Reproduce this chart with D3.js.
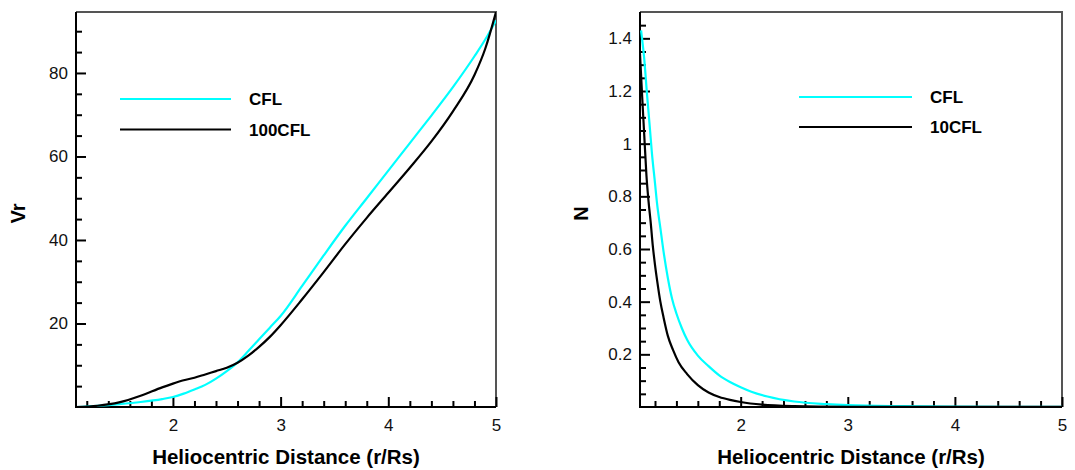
<!DOCTYPE html>
<html>
<head>
<meta charset="utf-8">
<script src="https://cdn.jsdelivr.net/npm/d3@7"></script>
<style>
  body { margin: 0; background: #fff; }
  svg { display: block; font-family: "Liberation Sans", Arial, sans-serif; }
</style>
</head>
<body>
<div id="chart"></div>
<script>
// ---- data ----
const vrR      = [1.1, 1.3, 1.5, 1.7, 1.9, 2.0, 2.1, 2.2, 2.3, 2.4, 2.5, 2.6, 2.7, 2.8, 2.9, 3.0, 3.2, 3.4, 3.6, 3.8, 4.0, 4.2, 4.4, 4.6, 4.8, 4.9, 5.0]
const vrCFL    = [0, 0.3, 0.7, 1.2, 1.9, 2.4, 3.2, 4.2, 5.3, 6.8, 8.6, 10.7, 13.4, 16.2, 19.0, 21.8, 29.0, 36.3, 43.4, 50.0, 56.6, 63.2, 69.8, 76.6, 84.0, 88.0, 92.6]
const vr100CFL = [0, 0.3, 1.1, 2.7, 4.7, 5.6, 6.4, 7.0, 7.8, 8.6, 9.4, 10.6, 12.3, 14.4, 16.8, 19.6, 25.8, 32.3, 39.0, 45.3, 51.3, 57.3, 63.6, 70.8, 79.5, 85.8, 94.6]

const nR_CFL   = [1.07, 1.10, 1.125, 1.15, 1.17, 1.20, 1.22, 1.25, 1.28, 1.32, 1.36, 1.40, 1.45, 1.50, 1.60, 1.70, 1.80, 1.90, 2.00, 2.10, 2.25, 2.50, 2.80, 3.00, 3.50, 4.00, 4.50, 5.00]
const nCFL     = [1.43, 1.32, 1.19, 1.07, 0.97, 0.85, 0.77, 0.68, 0.59, 0.49, 0.41, 0.355, 0.30, 0.255, 0.195, 0.155, 0.12, 0.095, 0.075, 0.058, 0.04, 0.021, 0.011, 0.007, 0.003, 0.0013, 0.0006, 0.0003]
const nR_10CFL = [1.06, 1.08, 1.10, 1.12, 1.14, 1.16, 1.18, 1.20, 1.22, 1.25, 1.28, 1.32, 1.37, 1.42, 1.50, 1.60, 1.70, 1.80, 1.90, 2.00, 2.20, 2.50, 3.00, 4.00, 5.00]
const n10CFL   = [1.34, 1.18, 1.03, 0.88, 0.78, 0.70, 0.61, 0.54, 0.48, 0.40, 0.34, 0.27, 0.215, 0.17, 0.125, 0.083, 0.055, 0.038, 0.027, 0.019, 0.009, 0.0035, 0.001, 0.0002, 0.0001]

const xTicks      = [2, 3, 4, 5]
const xTickLabels = ["2", "3", "4", "5"]
const vrTicks     = [20, 40, 60, 80]
const nTicks      = [0.2, 0.4, 0.6, 0.8, 1, 1.2, 1.4]
const nTickLabels = ["0.2", "0.4", "0.6", "0.8", "1", "1.2", "1.4"]
const xTitle      = "Heliocentric Distance (r/Rs)"

const CYAN = "#00ffff"

const svg = d3.select("#chart").append("svg").attr("width", 1075).attr("height", 470)

drawPanel({
  left: 76, right: 496, top: 12, bottom: 407,
  xDomain: [1.1, 5], yDomain: [0, 94.6],
  yTicks: vrTicks, yLabels: vrTicks.map(String), yMinorStep: 5,
  yTitle: "Vr", yTitleX: 18,
  series: [
    {x: vrR, y: vrCFL, color: CYAN, name: "CFL"},
    {x: vrR, y: vr100CFL, color: "#000", name: "100CFL"}
  ],
  legend: {x1: 120, x2: 231, tx: 249, y: 99, gap: 30.5}
}, "p1")

drawPanel({
  left: 640, right: 1062, top: 12, bottom: 407,
  xDomain: [1.06, 5], yDomain: [0, 1.5],
  yTicks: nTicks, yLabels: nTickLabels, yMinorStep: 0.05,
  yTitle: "N", yTitleX: 581,
  series: [
    {x: nR_CFL, y: nCFL, color: CYAN, name: "CFL"},
    {x: nR_10CFL, y: n10CFL, color: "#000", name: "10CFL"}
  ],
  legend: {x1: 799, x2: 912, tx: 930, y: 97, gap: 30}
}, "p2")

function drawPanel(p, id){
  const x = d3.scaleLinear().domain(p.xDomain).range([p.left, p.right])
  const y = d3.scaleLinear().domain(p.yDomain).range([p.bottom, p.top])

  // frame: top/right gray, left/bottom black
  svg.append("path")
    .attr("d", `M${p.left},${p.top}H${p.right}V${p.bottom}`)
    .attr("fill", "none").attr("stroke", "#555").attr("stroke-width", 2)
  svg.append("path")
    .attr("d", `M${p.left},${p.top}V${p.bottom}H${p.right}`)
    .attr("fill", "none").attr("stroke", "#000").attr("stroke-width", 2)

  // minor ticks
  const xMinor = d3.range(1.2, 5, 0.2).map(v => +v.toFixed(2)).filter(v => !xTicks.includes(v) && v > p.xDomain[0])
  const yMinor = d3.range(p.yMinorStep, p.yDomain[1], p.yMinorStep).map(v => +v.toFixed(3))
    .filter(v => !p.yTicks.some(t => Math.abs(t - v) < 1e-6))

  svg.append("g").attr("transform", `translate(0,${p.bottom})`)
    .call(d3.axisBottom(x).tickValues(xMinor).tickSize(-6).tickFormat(""))
    .call(styleAxis)
  svg.append("g").attr("transform", `translate(${p.left},0)`)
    .call(d3.axisLeft(y).tickValues(yMinor).tickSize(-6).tickFormat(""))
    .call(styleAxis)

  // major ticks
  svg.append("g").attr("transform", `translate(0,${p.bottom})`)
    .call(d3.axisBottom(x).tickValues(xTicks).tickSize(-10).tickPadding(12)
      .tickFormat((d, i) => xTickLabels[i]))
    .call(styleAxis)
  svg.append("g").attr("transform", `translate(${p.left},0)`)
    .call(d3.axisLeft(y).tickValues(p.yTicks).tickSize(-10).tickPadding(8)
      .tickFormat((d, i) => p.yLabels[i]))
    .call(styleAxis)

  // titles
  svg.append("text").attr("x", (p.left + p.right) / 2).attr("y", 464)
    .attr("text-anchor", "middle").attr("font-size", 20.5).attr("font-weight", "bold").text(xTitle)
  svg.append("text")
    .attr("transform", `translate(${p.yTitleX + 7},${(p.top + p.bottom) / 2 + 4}) rotate(-90)`)
    .attr("text-anchor", "middle").attr("font-size", 20).attr("font-weight", "bold").text(p.yTitle)

  // lines
  svg.append("clipPath").attr("id", "clip-" + id).append("rect")
    .attr("x", p.left).attr("y", p.top).attr("width", p.right - p.left).attr("height", p.bottom - p.top)

  const line = d3.line().x(d => x(d[0])).y(d => y(d[1])).curve(d3.curveMonotoneX)
  p.series.forEach((s, i) => {
    svg.append("path")
      .datum(s.x.map((r, k) => [r, s.y[k]]))
      .attr("clip-path", `url(#clip-${id})`)
      .attr("fill", "none").attr("stroke", s.color).attr("stroke-width", 2.2)
      .attr("d", line)

    const ly = p.legend.y + i * p.legend.gap
    svg.append("line").attr("x1", p.legend.x1).attr("x2", p.legend.x2).attr("y1", ly).attr("y2", ly)
      .attr("stroke", s.color).attr("stroke-width", 2.2)
    svg.append("text").attr("x", p.legend.tx).attr("y", ly + 6)
      .attr("font-size", 17).attr("font-weight", "bold").text(s.name)
  })
}

function styleAxis(g){
  g.select(".domain").remove()
  g.selectAll(".tick line").attr("stroke", "#000").attr("stroke-width", 2)
  g.selectAll(".tick text").attr("font-size", 17).attr("fill", "#111")
    .attr("font-family", "'Liberation Sans', Arial, sans-serif")
}
</script>
</body>
</html>
